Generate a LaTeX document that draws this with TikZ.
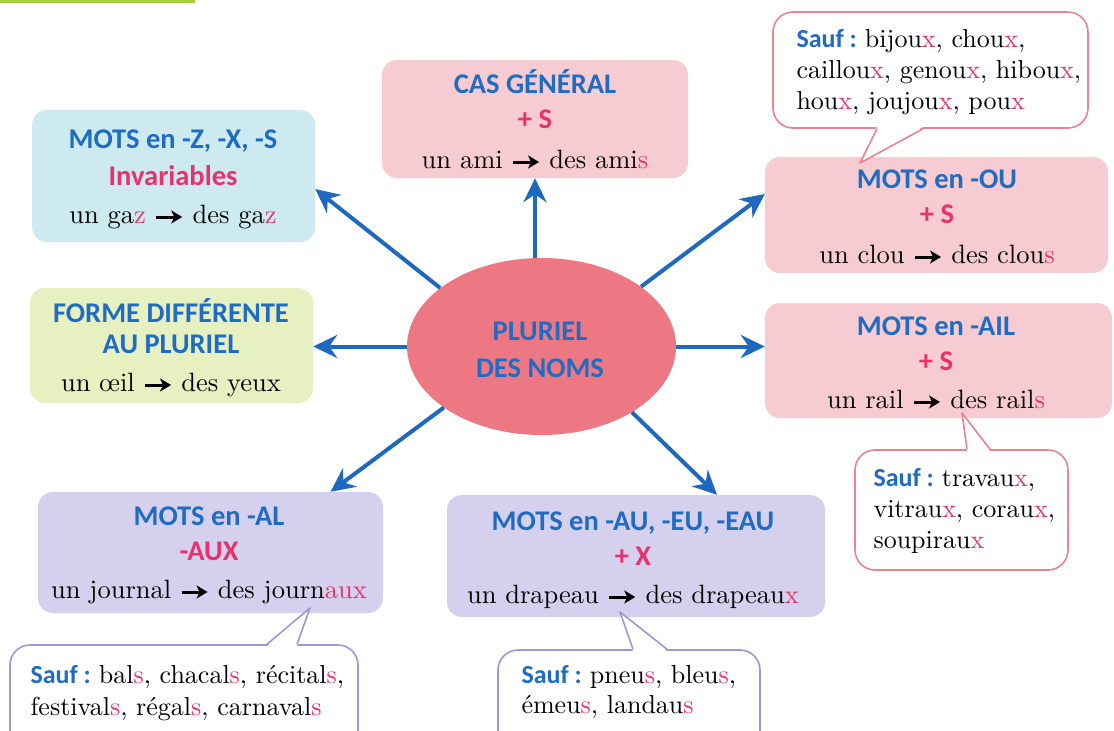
\documentclass[tikz,border=0pt]{standalone}
\usepackage{fontspec}
\newfontfamily\hdfont{Carlito}
\setmainfont{lmroman10-regular.otf}[BoldFont=lmroman10-bold.otf]
\usetikzlibrary{shapes.geometric,arrows.meta,calc}
\definecolor{blueT}{RGB}{31,108,194}
\definecolor{pinkT}{RGB}{232,50,110}
\definecolor{fillZ}{RGB}{206,234,241}
\definecolor{fillP}{RGB}{246,204,210}
\definecolor{fillG}{RGB}{230,240,192}
\definecolor{fillV}{RGB}{212,208,238}
\definecolor{fillE}{RGB}{237,120,132}
\definecolor{lineP}{RGB}{234,130,145}
\definecolor{lineV}{RGB}{160,150,212}
\definecolor{arrB}{RGB}{30,104,192}
\definecolor{barG}{RGB}{165,205,60}
\newcommand\pk[1]{\textcolor{pinkT}{#1}}
\newcommand\sauf{{\hdfont\bfseries\fontsize{26}{30}\selectfont\color{blueT}Sauf :}\hspace{8pt}}
\newcommand\flch{\tikz[baseline=-6pt]{\draw[line width=3pt,-{Stealth[length=11pt,width=13pt,inset=3pt]}] (0pt,0pt) -- (26pt,0pt);}}
\begin{document}
\begin{tikzpicture}[x=1pt,y=-1pt,
  box/.style={rounded corners=15pt, inner sep=0pt},
  bubP/.style={rounded corners=20pt, inner sep=0pt, fill=white, draw=lineP, line width=1.6pt},
  bubV/.style={rounded corners=20pt, inner sep=0pt, fill=white, draw=lineV, line width=1.6pt},
  hd/.style={anchor=base, font=\hdfont\bfseries\fontsize{28.5}{32}\selectfont, text=blueT},
  hdp/.style={anchor=base, font=\hdfont\bfseries\fontsize{28.5}{32}\selectfont, text=pinkT},
  bd/.style={anchor=base, font=\fontsize{26.5}{32}\selectfont, text=black},
  bl/.style={anchor=base west, font=\fontsize{26}{32}\selectfont, text=black},
  arr/.style={draw=arrB, line width=4pt, -{Stealth[length=24pt,width=23pt,inset=8pt]}}
]
\useasboundingbox (0,0) rectangle (1114,731);
\fill[white] (0,0) rectangle (1114,731);
\fill[barG] (0,0) rectangle (195,3);

% boxes
\node[box, fill=fillZ, minimum width=283pt, minimum height=132pt] (z) at (173.5,176) {};
\node[box, fill=fillP, minimum width=306pt, minimum height=118pt] (cas) at (535,119) {};
\node[box, fill=fillP, minimum width=343pt, minimum height=116pt] (ou) at (936.5,215) {};
\node[box, fill=fillG, minimum width=283pt, minimum height=115pt] (forme) at (171.5,345.5) {};
\node[box, fill=fillP, minimum width=347pt, minimum height=115pt] (ail) at (938.5,360.5) {};
\node[box, fill=fillV, minimum width=345pt, minimum height=121pt] (al) at (210.5,552.5) {};
\node[box, fill=fillV, minimum width=378pt, minimum height=122pt] (au) at (636,556) {};
\node[ellipse, fill=fillE, minimum width=269pt, minimum height=177pt, inner sep=0pt] (ell) at (541.5,346.5) {};

% arrows
\draw[arr] (cas.south |- ell.north) -- (cas.south);
\draw[arr] (ell.150) -- ([yshift=-13pt]z.east);
\draw[arr] (ell.31) -- ([yshift=21pt]ou.west);
\draw[arr] (ell.west) -- (ell.west -| forme.east);
\draw[arr] (ell.east) -- (ell.east -| ail.west);
\draw[arr] (ell.212) -- ([xshift=120pt]al.north);
\draw[arr] (ell.-36) -- ([xshift=81pt]au.north);

% bubbles
\node[bubP, minimum width=315pt, minimum height=116pt] (b1) at (930.5,70) {};
\coordinate (t1) at (860,163);
\fill[white] ($(b1.south)+(-53.5,-2)$) -- (t1) -- ($(b1.south)+(-7.5,-2)$) -- cycle;
\draw[lineP, line width=1.6pt, line join=round] ($(b1.south)+(-53.5,0)$) -- (t1) -- ($(b1.south)+(-7.5,0)$);

\node[bubP, minimum width=213pt, minimum height=120pt] (b2) at (961.5,510) {};
\coordinate (t2) at (962,413);
\fill[white] ($(b2.north)+(5.5,2)$) -- (t2) -- ($(b2.north)+(28.5,2)$) -- cycle;
\draw[lineP, line width=1.6pt, line join=round] ($(b2.north)+(5.5,0)$) -- (t2) -- ($(b2.north)+(28.5,0)$);

\node[bubV, minimum width=348pt, minimum height=120pt] (b3) at (184,705) {};
\coordinate (t3) at (310,608);
\fill[white] ($(b3.north)+(83,2)$) -- (t3) -- ($(b3.north)+(113,2)$) -- cycle;
\draw[lineV, line width=1.6pt, line join=round] ($(b3.north)+(83,0)$) -- (t3) -- ($(b3.north)+(113,0)$);

\node[bubV, minimum width=262pt, minimum height=110pt] (b4) at (629,705) {};
\coordinate (t4) at (620,612);
\fill[white] ($(b4.north)+(4,2)$) -- (t4) -- ($(b4.north)+(38,2)$) -- cycle;
\draw[lineV, line width=1.6pt, line join=round] ($(b4.north)+(4,0)$) -- (t4) -- ($(b4.north)+(38,0)$);

% texts
\node[hd] (z1) at (173,148) {MOTS en -Z, -X, -S};
\node[hdp] (z2) at (173,185) {Invariables};
\node[bd] (z3) at (173,223) {un ga\pk{z} \flch{} des ga\pk{z}};

\node[hd] (c1) at (535,93) {CAS GÉNÉRAL};
\node[hdp] (c2) at (535,128) {+ S};
\node[bd] (c3) at (535,168) {un ami \flch{} des ami\pk{s}};

\node[hd] (o1) at (937,188) {MOTS en -OU};
\node[hdp] (o2) at (937,223) {+ S};
\node[bd] (o3) at (937,263) {un clou \flch{} des clou\pk{s}};

\node[hd] (f1) at (171,322) {FORME DIFFÉRENTE};
\node[hd] (f2) at (171,353) {AU PLURIEL};
\node[bd] (f3) at (171,391) {un œil \flch{} des yeux};

\node[hd] (e1) at (540,340) {PLURIEL};
\node[hd] (e2) at (540,377) {DES NOMS};

\node[hd] (a1) at (936,335) {MOTS en -AIL};
\node[hdp] (a2) at (936,370) {+ S};
\node[bd] (a3) at (936,408) {un rail \flch{} des rail\pk{s}};

\node[hd] (l1) at (209,525) {MOTS en -AL};
\node[hdp] (l2) at (209,560) {-AUX};
\node[bd] (l3) at (209,598) {un journal \flch{} des journ\pk{aux}};

\node[hd] (u1) at (633,530) {MOTS en -AU, -EU, -EAU};
\node[hdp] (u2) at (633,565) {+ X};
\node[bd] (u3) at (633,603) {un drapeau \flch{} des drapeau\pk{x}};

\node[bl] (s11) at (793,47) {\sauf bijou\pk{x}, chou\pk{x},};
\node[bl] (s12) at (793,78) {caillou\pk{x}, genou\pk{x}, hibou\pk{x},};
\node[bl] (s13) at (793,109) {hou\pk{x}, joujou\pk{x}, pou\pk{x}};

\node[bl] (s21) at (870,486) {\sauf travau\pk{x},};
\node[bl] (s22) at (870,517) {vitrau\pk{x}, corau\pk{x},};
\node[bl] (s23) at (870,548) {soupirau\pk{x}};

\node[bl] (s31) at (27,683) {\sauf bal\pk{s}, chacal\pk{s}, récital\pk{s},};
\node[bl] (s32) at (27,715) {festival\pk{s}, régal\pk{s}, carnaval\pk{s}};

\node[bl] (s41) at (518,683) {\sauf pneu\pk{s}, bleu\pk{s},};
\node[bl] (s42) at (518,713) {émeu\pk{s}, landau\pk{s}};
\end{tikzpicture}
\end{document}
